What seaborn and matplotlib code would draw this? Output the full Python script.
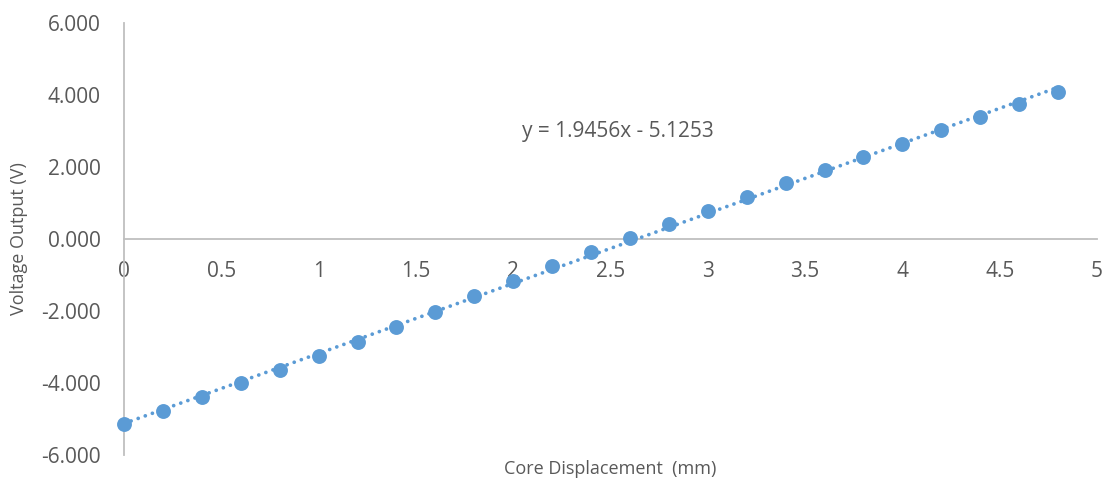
import numpy as np
import pandas as pd
import seaborn as sns
import matplotlib
matplotlib.use("Agg")
import matplotlib.pyplot as plt

# Core displacement (mm) and measured LVDT output (V)
displacement = [0.0, 0.2, 0.4, 0.6, 0.8, 1.0, 1.2, 1.4, 1.6, 1.8, 2.0, 2.2, 2.4,
                2.6, 2.8, 3.0, 3.2, 3.4, 3.6, 3.8, 4.0, 4.2, 4.4, 4.6, 4.8]
voltage = [-5.15, -4.77, -4.38, -3.99, -3.64, -3.25, -2.87, -2.45, -2.04, -1.59,
           -1.16, -0.74, -0.35, 0.02, 0.42, 0.79, 1.18, 1.55, 1.92, 2.28,
           2.65, 3.04, 3.40, 3.74, 4.09]

# Linear trendline coefficients
slope = 1.9456
intercept = -5.1253

x_ticks = [0, 0.5, 1, 1.5, 2, 2.5, 3, 3.5, 4, 4.5, 5]
y_ticks = [-6, -4, -2, 0, 2, 4, 6]

df = pd.DataFrame({"Core Displacement (mm)": displacement, "Voltage Output (V)": voltage})

sns.set_theme(style="white")
plt.rcParams["font.family"] = ["Open Sans", "DejaVu Sans"]

text_color = "#595959"
axis_color = "#BFBFBF"
point_color = "#5B9BD5"

fig = plt.figure(figsize=(11.12, 4.84), dpi=100)
ax = fig.add_axes([124 / 1112, 29 / 484, 973 / 1112, 432 / 484])

# Trendline drawn from the fitted equation
trend_x = np.array([min(displacement), max(displacement)])
trend_df = pd.DataFrame({"x": trend_x, "y": slope * trend_x + intercept})
sns.lineplot(data=trend_df, x="x", y="y", ax=ax, color=point_color,
             linestyle=(0, (0.01, 2.0)), linewidth=2.7, dash_capstyle="round",
             solid_capstyle="round", zorder=2)

sns.scatterplot(data=df, x="Core Displacement (mm)", y="Voltage Output (V)", ax=ax,
                color=point_color, s=115, edgecolor=point_color, linewidth=0, zorder=3,
                clip_on=False)

ax.set_xlim(0, 5)
ax.set_ylim(-6, 6)
ax.set_xticks(x_ticks)
ax.set_yticks(y_ticks)
ax.set_xticklabels([f"{t:g}" for t in x_ticks])
ax.set_yticklabels([f"{t:.3f}" for t in y_ticks])

# Axes cross at the origin
for side in ("top", "right"):
    ax.spines[side].set_visible(False)
ax.spines["bottom"].set_position(("data", 0))
ax.spines["left"].set_position(("data", 0))
for side in ("bottom", "left"):
    ax.spines[side].set_color(axis_color)
    ax.spines[side].set_linewidth(1.3)
    ax.spines[side].set_zorder(1)

ax.tick_params(axis="both", length=0, labelsize=15, colors=text_color)
ax.tick_params(axis="x", pad=16)
ax.tick_params(axis="y", pad=17)
for lbl in ax.get_xticklabels() + ax.get_yticklabels():
    lbl.set_color(text_color)

ax.set_xlabel("")
ax.set_ylabel("")
fig.text(610 / 1112, 1 - 469 / 484, "Core Displacement  (mm)", ha="center", va="center",
         fontsize=13, color=text_color)
fig.text(19 / 1112, 1 - 239 / 484, "Voltage Output (V)", ha="center", va="center",
         rotation=90, fontsize=13, color=text_color)

ax.text(2.045, 3.0, f"y = {slope:.4f}x - {abs(intercept):.4f}", ha="left", va="center",
        fontsize=15, color=text_color)

ax.grid(False)
fig.savefig("out.png", dpi=100, facecolor="white")
